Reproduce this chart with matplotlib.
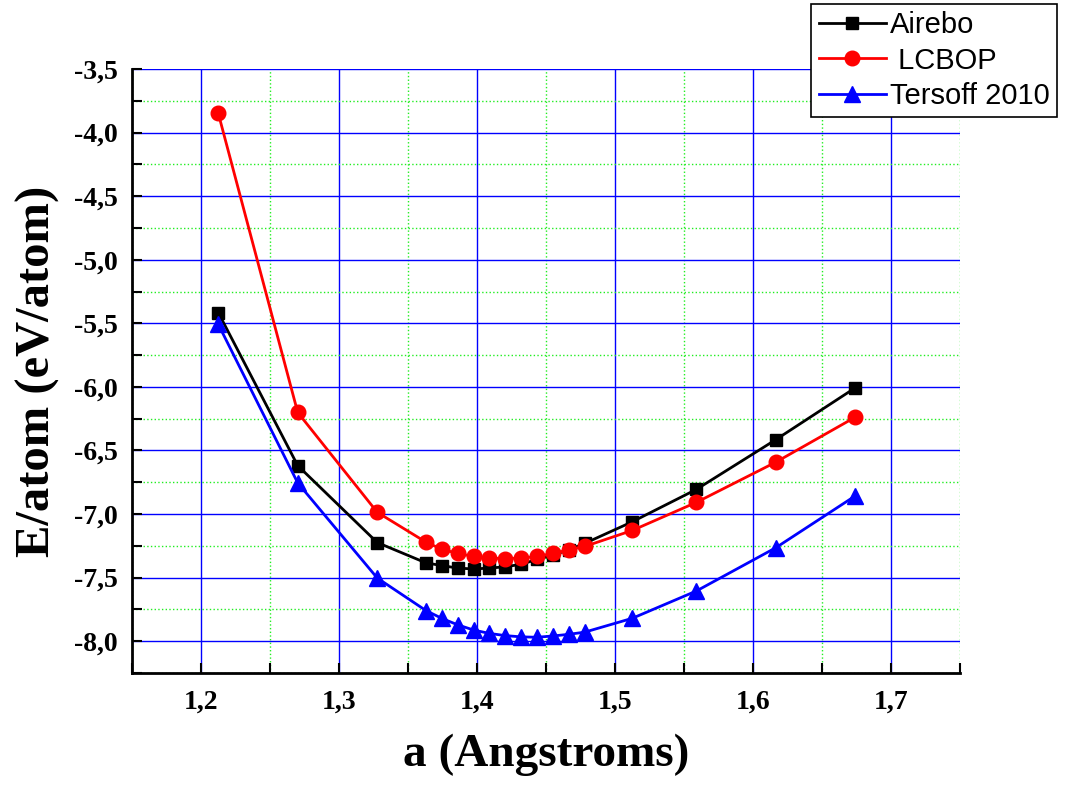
import numpy as np
import matplotlib.pyplot as plt
from matplotlib.ticker import MultipleLocator

# lattice parameter (Angstroms)
a_vals = [1.2125, 1.2701, 1.3277, 1.3630, 1.3744, 1.3859, 1.3975, 1.4090, 1.4205,
          1.4320, 1.4435, 1.4550, 1.4665, 1.4780, 1.5125, 1.5590, 1.6165, 1.6741]

# energy per atom (eV/atom) for each potential
e_airebo = [-5.415, -6.619, -7.224, -7.384, -7.405, -7.425, -7.432, -7.425, -7.415,
            -7.395, -7.357, -7.323, -7.282, -7.231, -7.061, -6.806, -6.415, -6.007]
e_lcbop = [-3.847, -6.201, -6.986, -7.221, -7.276, -7.310, -7.333, -7.347, -7.350,
           -7.347, -7.333, -7.310, -7.282, -7.255, -7.129, -6.908, -6.592, -6.238]
e_tersoff = [-5.507, -6.755, -7.503, -7.759, -7.820, -7.871, -7.912, -7.939, -7.956,
             -7.966, -7.969, -7.959, -7.946, -7.929, -7.820, -7.605, -7.265, -6.857]

x_ticks = [1.2, 1.3, 1.4, 1.5, 1.6, 1.7]
x_tick_labels = ['1,2', '1,3', '1,4', '1,5', '1,6', '1,7']
y_ticks = [-3.5, -4.0, -4.5, -5.0, -5.5, -6.0, -6.5, -7.0, -7.5, -8.0]
y_tick_labels = ['-3,5', '-4,0', '-4,5', '-5,0', '-5,5', '-6,0', '-6,5', '-7,0', '-7,5', '-8,0']

serif = ['Liberation Serif', 'DejaVu Serif']
sans = ['Liberation Sans', 'DejaVu Sans']


def main():
    fig = plt.figure(figsize=(10.66, 7.85), dpi=100)
    ax = fig.add_axes([0.1238, 0.1427, 0.7768, 0.7694])

    ax.plot(a_vals, e_airebo, color='black', lw=2, marker='s', ms=9, label='Airebo', zorder=3)
    ax.plot(a_vals, e_lcbop, color='red', lw=2, marker='o', ms=10.5, label=' LCBOP', zorder=4)
    ax.plot(a_vals, e_tersoff, color='blue', lw=2, marker='^', ms=11, label='Tersoff 2010', zorder=3)

    ax.set_xlim(1.15, 1.75)
    ax.set_ylim(-8.25, -3.5)

    ax.set_xticks(x_ticks)
    ax.set_xticklabels(x_tick_labels, fontfamily=serif, fontweight='bold', fontsize=20)
    ax.set_yticks(y_ticks)
    ax.set_yticklabels(y_tick_labels, fontfamily=serif, fontweight='bold', fontsize=20)
    ax.xaxis.set_minor_locator(MultipleLocator(0.05))
    ax.yaxis.set_minor_locator(MultipleLocator(0.25))

    # grid: blue solid on major, green dotted on minor
    ax.grid(which='major', color='blue', lw=1.0, ls='-')
    ax.grid(which='minor', color='#22ee22', lw=1.0, ls=':')
    ax.set_axisbelow(True)

    ax.tick_params(which='both', direction='in', length=7, width=1.5, top=False, right=False)
    ax.tick_params(axis='y', which='major', pad=10)
    ax.tick_params(axis='x', which='major', pad=12)
    ax.spines['top'].set_visible(False)
    ax.spines['right'].set_visible(False)
    for s in ('left', 'bottom'):
        ax.spines[s].set_linewidth(2)

    ax.set_xlabel('a (Angstroms)', fontfamily=serif, fontweight='bold', fontsize=34, labelpad=14)
    ax.set_ylabel('E/atom (eV/atom)', fontfamily=serif, fontweight='bold', fontsize=35, labelpad=10)

    leg = fig.legend(loc='upper right', bbox_to_anchor=(1057 / 1066, 1 - 4 / 785),
                     prop={'family': sans, 'size': 21}, frameon=True, fancybox=False,
                     edgecolor='black', framealpha=1, handlelength=2.3, handletextpad=0.15,
                     labelspacing=0.25, borderpad=0.25, borderaxespad=0)
    leg.get_frame().set_linewidth(1.2)

    fig.savefig('out.png', dpi=100)


if __name__ == '__main__':
    main()
